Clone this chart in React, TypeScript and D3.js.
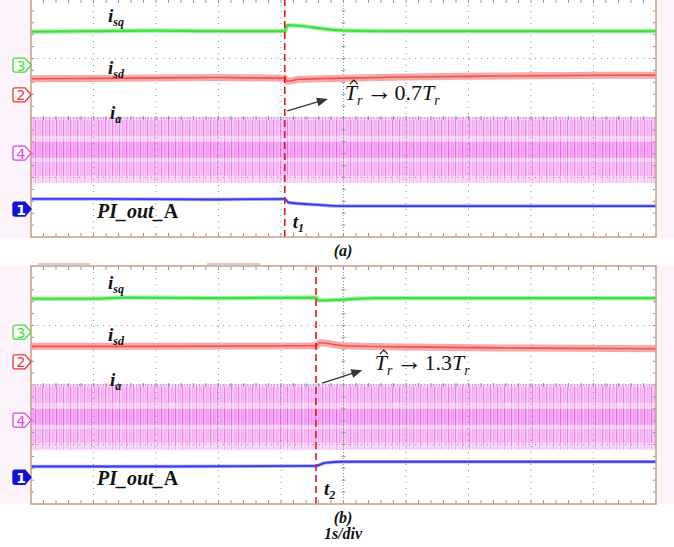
import React from "react";
import * as d3 from "d3";

// ---------- data (time in s, 1 s/div; values in vertical divisions, centre = 0) ----------
const timeTicks = [0, 1, 2, 3, 4, 5, 6, 7, 8, 9, 10];
const levelTicks = [-2, -1, 0, 1, 2];

const eventTimes = [4.06, 4.56];
const eventLabels = ["1", "2"];
const panelLabels = ["(a)", "(b)"];
const ratioLabels = ["0.7", "1.3"];

const isqA: [number, number][] = [[0, 1.45], [1, 1.46], [2, 1.47], [3, 1.46], [4.06, 1.46], [4.1, 1.56], [4.3, 1.55], [4.6, 1.51], [5, 1.47], [6, 1.46], [8, 1.46], [10, 1.46]];
const isdA: [number, number][] = [[0, 0.66], [1.5, 0.67], [3, 0.68], [4.06, 0.67], [4.1, 0.62], [4.3, 0.65], [5, 0.67], [6, 0.69], [7, 0.7], [8, 0.71], [10, 0.72]];
const piA: [number, number][] = [[0, -1.36], [1, -1.36], [3, -1.37], [4.06, -1.36], [4.12, -1.42], [4.6, -1.46], [5, -1.48], [7, -1.48], [10, -1.48]];

const isqB: [number, number][] = [[0, 1.45], [1, 1.45], [1.5, 1.47], [3, 1.46], [4.56, 1.47], [4.6, 1.42], [4.9, 1.43], [5.5, 1.46], [10, 1.46]];
const isdB: [number, number][] = [[0, 0.65], [2, 0.65], [4.56, 0.66], [4.62, 0.71], [5, 0.66], [6, 0.64], [8, 0.62], [10, 0.61]];
const piB: [number, number][] = [[0, -1.37], [2, -1.37], [4.56, -1.36], [4.7, -1.31], [5, -1.29], [10, -1.29]];

// ia envelope bands (top, bottom) in divisions
const iaEnvelope = [0.02, -1.09];
const iaDenseBands: [number, number][] = [[-0.03, -0.3], [-0.4, -0.67], [-0.74, -0.97]];

// channel reference markers
const markerNames = ["3", "2", "4", "1"];
const markerLevelsA = [0.89, 0.39, -0.59, -1.53];
const markerLevelsB = [0.89, 0.39, -0.59, -1.55];

const arrowsA: [number, number][] = [[4.1, 0.12], [4.75, 0.32]];
const arrowsB: [number, number][] = [[4.66, 0.03], [5.3, 0.25]];
const ratioPosA: [number, number] = [5.02, 0.3];
const ratioPosB: [number, number] = [5.5, 0.25];

// ---------- layout ----------
const W = 674;
const H = 547;
const LEFT = 31;
const RIGHT = 656;
const PH = 238;
const panelTops = [-1, 266];

const GREEN = "#3fe03f";
const RED = "#ee3535";
const BLUE = "#3b3be8";
const MAG = "#e43ee4";
const FONT = "'Liberation Serif', 'Times New Roman', serif";

const x = d3.scaleLinear().domain([0, 10]).range([LEFT, RIGHT]);

function Marker({ y, name, color, filled }: { y: number; name: string; color: string; filled?: boolean }) {
  const l = 13, r = 31, h = 7;
  const p = `M${l + 2},${y - h} L${r - 6},${y - h} L${r},${y} L${r - 6},${y + h} L${l + 2},${y + h} Q${l},${y + h} ${l},${y + h - 2} L${l},${y - h + 2} Q${l},${y - h} ${l + 2},${y - h} Z`;
  return (
    <g>
      <path d={p} fill={filled ? color : "#fff"} stroke={color} strokeWidth={1.3} />
      <text x={l + 8} y={y + 5.5} textAnchor="middle" fontFamily="'DejaVu Sans', sans-serif" fontSize={14} fill={filled ? "#fff" : color} fontWeight={filled ? "bold" : "normal"}>{name}</text>
    </g>
  );
}

function Panel({ idx }: { idx: number }) {
  const top = panelTops[idx];
  const y = d3.scaleLinear().domain([-2, 2]).range([top + PH, top]);
  const isq = idx === 0 ? isqA : isqB;
  const isd = idx === 0 ? isdA : isdB;
  const pi = idx === 0 ? piA : piB;
  const markers = idx === 0 ? markerLevelsA : markerLevelsB;
  const arrow = idx === 0 ? arrowsA : arrowsB;
  const rpos = idx === 0 ? ratioPosA : ratioPosB;
  const tEv = eventTimes[idx];
  const line = d3.line<[number, number]>().x(d => x(d[0])).y(d => y(d[1])).curve(d3.curveMonotoneX);
  const clipId = `clip${idx}`;
  const minor = d3.range(0, 10.001, 0.2);
  const minorY = d3.range(-2, 2.001, 0.2);
  const markerColors = [GREEN, RED, MAG, "#1212d8"];

  const ax0 = x(arrow[0][0]), ay0 = y(arrow[0][1]);
  const ax1 = x(arrow[1][0]), ay1 = y(arrow[1][1]);
  const ang = Math.atan2(ay1 - ay0, ax1 - ax0);
  const ah = 11, aw = 4.5;
  const head = `M${ax1},${ay1} L${ax1 - ah * Math.cos(ang) + aw * Math.sin(ang)},${ay1 - ah * Math.sin(ang) - aw * Math.cos(ang)} L${ax1 - ah * Math.cos(ang) - aw * Math.sin(ang)},${ay1 - ah * Math.sin(ang) + aw * Math.cos(ang)} Z`;

  const rx = x(rpos[0]);
  const ry = y(rpos[1]);

  return (
    <g>
      <defs>
        <clipPath id={clipId}>
          <rect x={LEFT} y={top} width={RIGHT - LEFT} height={PH} />
        </clipPath>
        <pattern id={`stripes${idx}`} width={7} height={10} patternUnits="userSpaceOnUse">
          <rect x={0} y={0} width={1.2} height={10} fill={MAG} opacity={0.7} />
          <rect x={3.3} y={0} width={1} height={10} fill={MAG} opacity={0.45} />
          <rect x={5.2} y={0} width={1} height={10} fill={MAG} opacity={0.25} />
        </pattern>
      </defs>
      {/* side margins tint */}
      <rect x={0} y={Math.max(top, 0)} width={LEFT} height={PH} fill="#fdf3fa" />
      <rect x={RIGHT} y={Math.max(top, 0)} width={W - RIGHT} height={PH} fill="#fdf3fa" />
      <rect x={LEFT} y={top} width={RIGHT - LEFT} height={PH} fill="#fff" />

      <g clipPath={`url(#${clipId})`}>
        {/* ia band */}
        <rect x={LEFT} y={y(iaEnvelope[0])} width={RIGHT - LEFT} height={y(iaEnvelope[1]) - y(iaEnvelope[0])} fill="#fbe0f9" />
        <rect x={LEFT} y={y(iaEnvelope[0])} width={RIGHT - LEFT} height={y(iaEnvelope[1]) - y(iaEnvelope[0])} fill={`url(#stripes${idx})`} opacity={0.45} />
        {iaDenseBands.map((b, i) => (
          <g key={`b${i}`}>
            <rect x={LEFT} y={y(b[0])} width={RIGHT - LEFT} height={y(b[1]) - y(b[0])} fill={MAG} opacity={i === 1 ? 0.22 : 0.1} />
            <rect x={LEFT} y={y(b[0])} width={RIGHT - LEFT} height={y(b[1]) - y(b[0])} fill={`url(#stripes${idx})`} opacity={i === 1 ? 0.75 : 0.5} />
          </g>
        ))}

        {/* grid */}
        {timeTicks.slice(1, -1).map(t => (
          <line key={`v${t}`} x1={x(t)} x2={x(t)} y1={top} y2={top + PH} stroke="#8a92b4" strokeWidth={1} strokeDasharray="1 5" />
        ))}
        {levelTicks.slice(1, -1).map(v => (
          <line key={`h${v}`} x1={LEFT} x2={RIGHT} y1={y(v)} y2={y(v)} stroke="#8a92b4" strokeWidth={1} strokeDasharray="1 5" />
        ))}
        <line x1={x(5)} x2={x(5)} y1={top} y2={top + PH} stroke="#8a92b4" strokeWidth={1} strokeDasharray="1 2" />
        <line x1={LEFT} x2={RIGHT} y1={y(0)} y2={y(0)} stroke="#8a92b4" strokeWidth={1} strokeDasharray="1 2" />
        {minor.map(t => (
          <g key={`m${t}`}>
            <line x1={x(t)} x2={x(t)} y1={y(0) - 2} y2={y(0) + 2} stroke="#8a92b4" strokeWidth={1} />
            <line x1={x(t)} x2={x(t)} y1={top + PH - 4} y2={top + PH} stroke="#8a92b4" strokeWidth={1} />
            <line x1={x(t)} x2={x(t)} y1={top} y2={top + 4} stroke="#8a92b4" strokeWidth={1} />
          </g>
        ))}
        {minorY.map(v => (
          <g key={`my${v}`}>
            <line x1={x(5) - 2} x2={x(5) + 2} y1={y(v)} y2={y(v)} stroke="#8a92b4" strokeWidth={1} />
            <line x1={LEFT} x2={LEFT + 3} y1={y(v)} y2={y(v)} stroke="#8a92b4" strokeWidth={1} />
            <line x1={RIGHT - 3} x2={RIGHT} y1={y(v)} y2={y(v)} stroke="#8a92b4" strokeWidth={1} />
          </g>
        ))}

        {/* traces */}
        <path d={line(isq) || ""} fill="none" stroke="#a8f2a8" strokeWidth={4.5} />
        <path d={line(isq) || ""} fill="none" stroke={GREEN} strokeWidth={2.2} />
        <path d={line(isd) || ""} fill="none" stroke="#f7a9a9" strokeWidth={7} />
        <path d={line(isd) || ""} fill="none" stroke={RED} strokeWidth={1.6} opacity={0.75} />
        <path d={line(pi) || ""} fill="none" stroke="#a9a9f6" strokeWidth={3.5} />
        <path d={line(pi) || ""} fill="none" stroke={BLUE} strokeWidth={1.8} />

        {/* event line */}
        <line x1={x(tEv)} x2={x(tEv)} y1={top} y2={top + PH} stroke="#e8141c" strokeWidth={1.6} strokeDasharray="7 4" />
      </g>

      {/* border */}
      <rect x={LEFT} y={top} width={RIGHT - LEFT} height={PH} fill="none" stroke="#c9a58a" strokeWidth={1.6} />

      {/* markers */}
      {markerNames.map((n, i) => (
        <Marker key={n} y={y(markers[i])} name={n} color={markerColors[i]} filled={n === "1"} />
      ))}

      {/* labels */}
      <g fontFamily={FONT} fontWeight="bold" fontStyle="italic" fill="#111">
        <text x={108} y={top + 23} fontSize={19}>i<tspan fontSize={12} dy={4}>sq</tspan></text>
        <text x={108} y={top + 74.5} fontSize={19}>i<tspan fontSize={12} dy={4}>sd</tspan></text>
        <text x={110} y={top + 120} fontSize={19}>i<tspan fontSize={12} dy={4}>a</tspan></text>
        <text x={97} y={top + 218.5} fontSize={20}>PI_out_<tspan fontStyle="normal">A</tspan></text>
        <text x={x(tEv) + 8} y={top + 229} fontSize={19}>t<tspan fontSize={12} dy={4}>{eventLabels[idx]}</tspan></text>
      </g>

      {/* arrow and ratio label */}
      <line x1={ax0} y1={ay0} x2={ax1 - 8 * Math.cos(ang)} y2={ay1 - 8 * Math.sin(ang)} stroke="#333" strokeWidth={1.3} />
      <path d={head} fill="#333" />
      <path d={`M${rx + 5},${ry - 16} L${rx + 9},${ry - 20} L${rx + 13},${ry - 16}`} fill="none" stroke="#111" strokeWidth={1.1} />
      <g fontFamily={FONT} fill="#111" fontSize={22}>
        <text x={rx} y={ry}>
          <tspan fontStyle="italic">T</tspan>
          <tspan fontStyle="italic" fontSize={14} dy={5}>r</tspan>
          <tspan dy={-5} dx={4} fontSize={26}>→</tspan>
          <tspan dx={2}>{ratioLabels[idx]}</tspan>
          <tspan fontStyle="italic">T</tspan>
          <tspan fontStyle="italic" fontSize={14} dy={5}>r</tspan>
        </text>
      </g>

      <text x={343} y={top + PH + 19} textAnchor="middle" fontFamily={FONT} fontWeight="bold" fontStyle="italic" fontSize={16} fill="#111">{panelLabels[idx]}</text>
    </g>
  );
}

export default function App() {
  return (
    <svg width={W} height={H} style={{ position: "absolute", left: 0, top: 0, background: "#fff" }}>
      <rect x={0} y={0} width={W} height={H} fill="#fff" />
      <Panel idx={0} />
      <Panel idx={1} />
      {/* faint scope header remnants above panel (b) */}
      <g fill="#9a9a9a" opacity={0.45}>
        <rect x={38} y={263} width={52} height={2} />
        <rect x={207} y={263} width={53} height={2} />
      </g>
      <text x={343} y={539} textAnchor="middle" fontFamily={FONT} fontWeight="bold" fontStyle="italic" fontSize={16} fill="#111">1s/div</text>
    </svg>
  );
}
